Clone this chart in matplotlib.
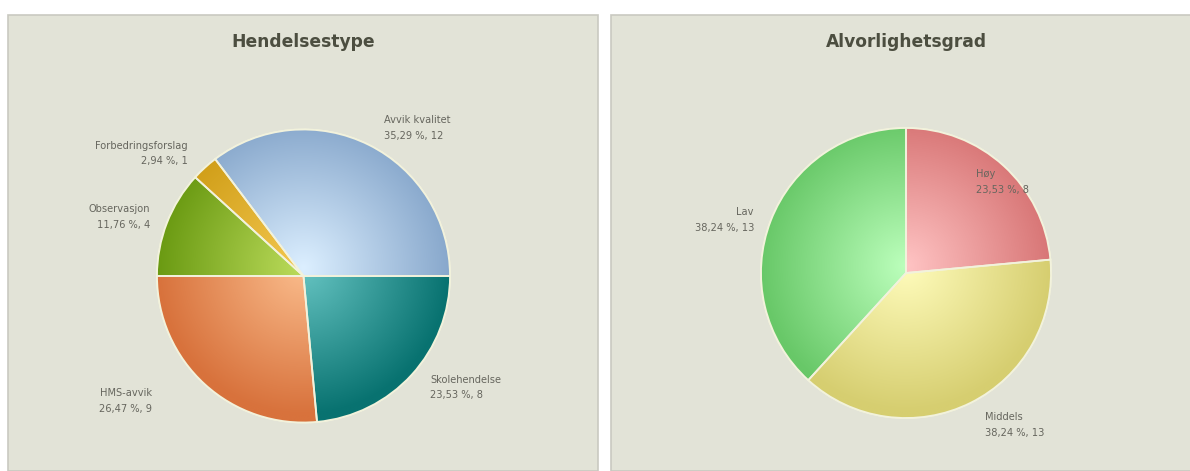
import matplotlib.pyplot as plt
import numpy as np
from matplotlib.colors import LinearSegmentedColormap
from matplotlib.patches import Rectangle, Wedge

W, H = 1190, 471

# data
type_title = "Hendelsestype"
type_labels = ["Avvik kvalitet", "Forbedringsforslag", "Observasjon", "HMS-avvik", "Skolehendelse"]
type_counts = [12, 1, 4, 9, 8]

sev_title = "Alvorlighetsgrad"
sev_labels = ["Høy", "Middels", "Lav"]
sev_counts = [8, 13, 13]

# styles: (light, dark) per slice
type_colors = [("#dcefff", "#88a8cc"), ("#f4c850", "#d09e18"), ("#bcdc5c", "#6a9a12"),
               ("#fabc8c", "#d8723c"), ("#66c4c2", "#087270")]
sev_colors = [("#ffc4c4", "#d87676"), ("#fffcbc", "#d6ce70"), ("#bcffbc", "#68c868")]

# label placement: (distance in radii, angle shift in deg, ha)
type_lab = [(1.15, -2, "left"), (1.15, 1, "right"), (1.12, 0, "right"),
            (1.34, -8, "right"), (1.15, 1, "left")]
sev_lab = [(0.79, 5, "left"), (1.18, 1, "left"), (1.11, 2, "right")]

bg = "#e2e3d7"
text_c = "#66665e"
title_c = "#4c4e40"
edge_c = "#f2f2dc"


def fmt(v, total):
    pct = f"{100 * v / total:.2f}".replace(".", ",")
    return f"{pct} %, {v}"


def draw_pie(cx, cy, r, counts, labels, colors, lab, start, ccw):
    h = r * 1.45
    ax = fig.add_axes([(cx - h) / W, (H - cy - h) / H, 2 * h / W, 2 * h / H])
    wedges, _ = ax.pie(counts, startangle=start, counterclock=ccw, radius=1,
                       wedgeprops=dict(edgecolor=edge_c, linewidth=1.3))
    ax.axis("off")
    g = np.linspace(-1, 1, 400)
    xx, yy = np.meshgrid(g, g)
    dist = np.clip(np.sqrt(xx ** 2 + (yy - 0.05) ** 2), 0, 1)
    total = sum(counts)
    for w, (lc, dc), v, name, (d, sh, ha) in zip(wedges, colors, counts, labels, lab):
        w.set_facecolor(dc)
        cmap = LinearSegmentedColormap.from_list("g", [lc, dc])
        im = ax.imshow(dist, cmap=cmap, extent=[-1, 1, -1, 1], origin="lower",
                       vmin=0, vmax=1, zorder=3)
        im.set_clip_path(w)
        mid = np.deg2rad((w.theta1 + w.theta2) / 2 + sh)
        ax.text(d * np.cos(mid), d * np.sin(mid), name + "\n" + fmt(v, total),
                ha=ha, va="center", fontsize=7.1, color=text_c, linespacing=1.7,
                zorder=10)
        # edge above the gradient
        ax.add_patch(Wedge(w.center, w.r, w.theta1, w.theta2, facecolor="none",
                           edgecolor=edge_c, linewidth=1.3, zorder=5))
    ax.set_xlim(-h / r, h / r)
    ax.set_ylim(-h / r, h / r)
    return ax


fig = plt.figure(figsize=(W / 100, H / 100), dpi=100, facecolor="white")
fig.patches.append(Rectangle((8 / W, 0), 590 / W, (H - 15) / H, transform=fig.transFigure,
                             facecolor=bg, edgecolor="#c9c9c1", linewidth=1.2, zorder=-5))
fig.patches.append(Rectangle((611 / W, 0), 600 / W, (H - 15) / H, transform=fig.transFigure,
                             facecolor=bg, edgecolor="#c9c9c1", linewidth=1.2, zorder=-5))

fig.text(303 / W, 1 - 42 / H, type_title, ha="center", va="center", fontsize=12.3,
         fontweight="bold", color=title_c)
fig.text(906 / W, 1 - 42 / H, sev_title, ha="center", va="center", fontsize=12.3,
         fontweight="bold", color=title_c)

draw_pie(303.5, 276, 146.5, type_counts, type_labels, type_colors, type_lab, 0, True)
draw_pie(906, 273, 145, sev_counts, sev_labels, sev_colors, sev_lab, 90, False)

fig.savefig("out.png", dpi=100, facecolor="white")
